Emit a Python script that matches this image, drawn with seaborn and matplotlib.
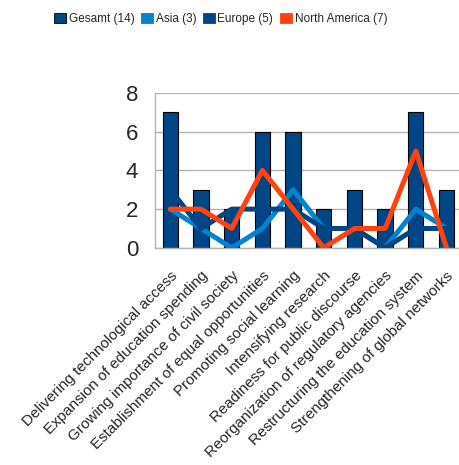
import numpy as np
import pandas as pd
import matplotlib
matplotlib.use("Agg")
import matplotlib.pyplot as plt
from matplotlib.patches import Patch
import seaborn as sns

# Datos
categorias = [
    "Delivering technological access",
    "Expansion of education spending",
    "Growing importance of civil society",
    "Establishment of equal opportunities",
    "Promoting social learning",
    "Intensifying research",
    "Readiness for public discourse",
    "Reorganization of regulatory agencies",
    "Restructuring the education system",
    "Strengthening of global networks",
]
gesamt = [7, 3, 2, 6, 6, 2, 3, 2, 7, 3]
asia = [2, 1, 0, 1, 3, 1, 1, 0, 2, 1]
europe = [3, 1, 2, 2, 2, 1, 1, 0, 1, 1]
north_america = [2, 2, 1, 4, 2, 0, 1, 1, 5, 0]

series_labels = ["Gesamt (14)", "Asia (3)", "Europe (5)", "North America (7)"]
colores = ["#004586", "#0084d1", "#004586", "#ff420e"]

sns.set_style("white")
plt.rcParams["font.family"] = ["Liberation Sans", "DejaVu Sans"]

df_bar = pd.DataFrame({"categoria": categorias, "valor": gesamt})
df_lineas = pd.DataFrame({
    "categoria": categorias * 3,
    "valor": asia + europe + north_america,
    "serie": ["Asia"] * 10 + ["Europe"] * 10 + ["North America"] * 10,
})

fig = plt.figure(figsize=(4.6, 4.65), dpi=100)
ax = fig.add_axes([0.337, 0.467, 0.667, 0.333])

sns.barplot(data=df_bar, x="categoria", y="valor", color=colores[0],
            saturation=1, width=0.5, edgecolor="black", linewidth=0.8,
            ax=ax, zorder=2)
sns.lineplot(data=df_lineas, x="categoria", y="valor", hue="serie",
             palette={"Asia": colores[1], "Europe": colores[2],
                      "North America": colores[3]},
             linewidth=3.6, sort=False, legend=False, ax=ax, zorder=3)

ax.set_xlim(-0.5, 9.5)
ax.set_ylim(0, 8)
ax.set_yticks([0, 2, 4, 6, 8])
ax.set_xlabel("")
ax.set_ylabel("")
ax.grid(axis="y", color="#b3b3b3", linewidth=1, zorder=0)
ax.set_axisbelow(True)
for s in ["top", "right"]:
    ax.spines[s].set_visible(False)
for s in ["left", "bottom"]:
    ax.spines[s].set_color("#b3b3b3")
    ax.spines[s].set_linewidth(1)

ax.tick_params(axis="y", length=8, color="#b3b3b3", labelsize=16, pad=4)
ax.set_xticks(np.arange(-0.5, 10, 1), minor=True)
ax.tick_params(axis="x", which="minor", length=7, color="#b3b3b3")
ax.tick_params(axis="x", which="major", length=0, pad=15)
ax.set_xticks(range(len(categorias)))
ax.set_xticklabels(categorias, rotation=45, ha="right",
                   rotation_mode="anchor", fontsize=11)

handles = [Patch(facecolor=c, edgecolor="black" if i == 0 else c, linewidth=0.6)
           for i, c in enumerate(colores)]
fig.legend(handles, series_labels, loc="upper center",
           bbox_to_anchor=(0.48, 0.995), ncol=4, frameon=False,
           fontsize=8.5, handlelength=1.0, handleheight=0.9,
           handletextpad=0.2, columnspacing=0.6)

fig.savefig("out.png", dpi=100)
